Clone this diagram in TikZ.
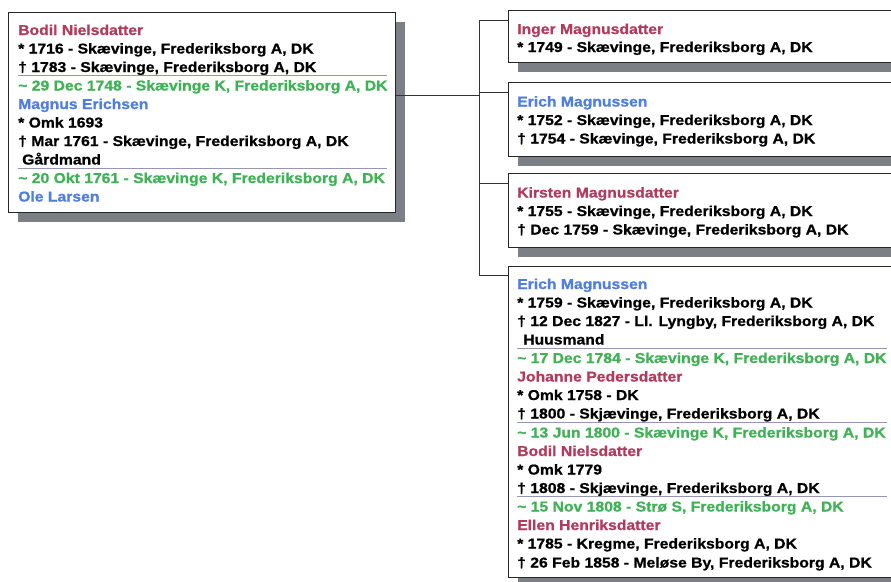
\documentclass[tikz,border=0pt]{standalone}
\usepackage{fontspec}
\setmainfont{Liberation Sans}[FakeStretch=1.1, BoldFeatures={FakeBold=0.8}]
\usetikzlibrary{shadows}
\definecolor{namered}{RGB}{178,58,92}
\definecolor{nameblue}{RGB}{78,126,222}
\definecolor{margreen}{RGB}{62,178,84}
\definecolor{sepline}{RGB}{150,150,180}
\definecolor{shadowgray}{RGB}{125,127,135}
\tikzset{
  x=1pt, y=-1pt,
  famebox/.style={draw=black!85, line width=1.1pt, fill=white, rectangle, inner sep=0pt, anchor=north west,
    drop shadow={shadow xshift=9pt, shadow yshift=-9pt, fill=shadowgray, opacity=1}},
  txt/.style={anchor=base west, inner sep=0pt, font=\bfseries\fontsize{14.3}{14.3}\selectfont},
  tblk/.style={txt, text=black},
  tred/.style={txt, text=namered},
  tblu/.style={txt, text=nameblue},
  tgrn/.style={txt, text=margreen},
  sepl/.style={draw=sepline, line width=0.8pt},
  conn/.style={draw=black!80, line width=1pt}
}
\begin{document}
\begin{tikzpicture}
\clip (0,0) rectangle (891,581);
\fill[white] (0,0) rectangle (891,581);
% boxes
\node[famebox, minimum width=387pt, minimum height=200pt] (L) at (8,12) {};
\node[famebox, minimum width=400pt, minimum height=52pt] (R1) at (508,10) {};
\node[famebox, minimum width=400pt, minimum height=74pt] (R2) at (508,82) {};
\node[famebox, minimum width=400pt, minimum height=74pt] (R3) at (508,173) {};
\node[famebox, minimum width=400pt, minimum height=311pt] (R4) at (508,266) {};
% connectors
\coordinate (jl) at (479,95);
\coordinate (jt) at (479,20);
\coordinate (j2) at (479,92);
\coordinate (j3) at (479,183);
\coordinate (jb) at (479,275);
\draw[conn] (L.east |- jl) -- (jl);
\draw[conn] (jt) -- (jb);
\draw[conn] (jt) -- (R1.west |- jt);
\draw[conn] (j2) -- (R2.west |- j2);
\draw[conn] (j3) -- (R3.west |- j3);
\draw[conn] (jb) -- (R4.west |- jb);
% left box text
\node[tred] (l1) at (18,35) {Bodil Nielsdatter};
\node[tblk] (l2) at (18,53.5) {* 1716 - Skævinge, Frederiksborg A, DK};
\node[tblk] (l3) at (18,72) {† 1783 - Skævinge, Frederiksborg A, DK};
\draw[sepl] (18,75.5) -- (387,75.5);
\node[tgrn] (l4) at (18,90.5) {\textasciitilde{} 29 Dec 1748 - Skævinge K, Frederiksborg A, DK};
\node[tblu] (l5) at (18,109) {Magnus Erichsen};
\node[tblk] (l6) at (18,127.5) {* Omk 1693};
\node[tblk] (l7) at (18,146) {† Mar 1761 - Skævinge, Frederiksborg A, DK};
\node[tblk] (l8) at (22,164.5) {Gårdmand};
\draw[sepl] (18,168) -- (387,168);
\node[tgrn] (l9) at (18,183) {\textasciitilde{} 20 Okt 1761 - Skævinge K, Frederiksborg A, DK};
\node[tblu] (l10) at (18,201.5) {Ole Larsen};
% right box 1
\node[tred] (a1) at (517,34) {Inger Magnusdatter};
\node[tblk] (a2) at (517,52) {* 1749 - Skævinge, Frederiksborg A, DK};
% right box 2
\node[tblu] (b1) at (517,106.5) {Erich Magnussen};
\node[tblk] (b2) at (517,125) {* 1752 - Skævinge, Frederiksborg A, DK};
\node[tblk] (b3) at (517,143.5) {† 1754 - Skævinge, Frederiksborg A, DK};
% right box 3
\node[tred] (c1) at (517,197.5) {Kirsten Magnusdatter};
\node[tblk] (c2) at (517,216) {* 1755 - Skævinge, Frederiksborg A, DK};
\node[tblk] (c3) at (517,234.5) {† Dec 1759 - Skævinge, Frederiksborg A, DK};
% right box 4
\node[tblu] (d1) at (517,289) {Erich Magnussen};
\node[tblk] (d2) at (517,307.5) {* 1759 - Skævinge, Frederiksborg A, DK};
\node[tblk] (d3) at (517,326) {† 12 Dec 1827 - Ll. Lyngby, Frederiksborg A, DK};
\node[tblk] (d4) at (523,344.5) {Huusmand};
\draw[sepl] (517,348.5) -- (887,348.5);
\node[tgrn] (d5) at (517,363) {\textasciitilde{} 17 Dec 1784 - Skævinge K, Frederiksborg A, DK};
\node[tred] (d6) at (517,381.5) {Johanne Pedersdatter};
\node[tblk] (d7) at (517,400) {* Omk 1758 - DK};
\node[tblk] (d8) at (517,418.5) {† 1800 - Skjævinge, Frederiksborg A, DK};
\draw[sepl] (517,422.5) -- (887,422.5);
\node[tgrn] (d9) at (517,437.5) {\textasciitilde{} 13 Jun 1800 - Skævinge K, Frederiksborg A, DK};
\node[tred] (d10) at (517,456) {Bodil Nielsdatter};
\node[tblk] (d11) at (517,474.5) {* Omk 1779};
\node[tblk] (d12) at (517,493) {† 1808 - Skjævinge, Frederiksborg A, DK};
\draw[sepl] (517,496.5) -- (887,496.5);
\node[tgrn] (d13) at (517,511.5) {\textasciitilde{} 15 Nov 1808 - Strø S, Frederiksborg A, DK};
\node[tred] (d14) at (517,530) {Ellen Henriksdatter};
\node[tblk] (d15) at (517,548.5) {* 1785 - Kregme, Frederiksborg A, DK};
\node[tblk] (d16) at (517,567.5) {† 26 Feb 1858 - Meløse By, Frederiksborg A, DK};
\end{tikzpicture}
\end{document}
